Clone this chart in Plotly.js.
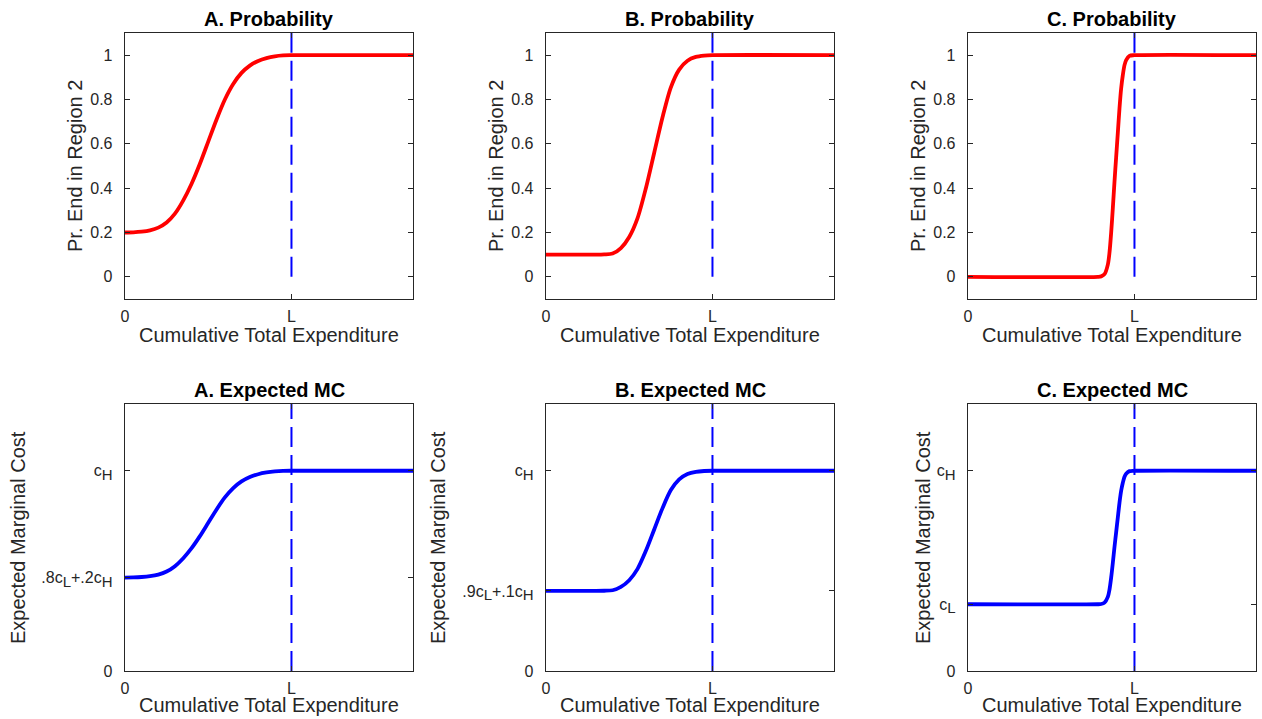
<!DOCTYPE html>
<html>
<head>
<meta charset="utf-8">
<script src="https://cdn.plot.ly/plotly-3.0.1.min.js"></script>
<style>html,body{margin:0;padding:0;background:#fff;}#chart{width:1262px;height:719px;}</style>
</head>
<body>
<div id="chart"></div>
<script>
// ---- Data ----
// x in units of L (L = 1)
const xA = [0, 0.05, 0.10, 0.15, 0.20, 0.25, 0.30, 0.35, 0.40, 0.45, 0.50, 0.55, 0.60, 0.65, 0.70, 0.75, 0.80, 0.85, 0.90, 0.95, 1.00, 1.73];
const probA = [0.200, 0.201, 0.204, 0.210, 0.222, 0.245, 0.285, 0.345, 0.420, 0.510, 0.610, 0.710, 0.800, 0.870, 0.920, 0.953, 0.974, 0.987, 0.995, 0.999, 1.000, 1.000];
const mcA = [1.400, 1.402, 1.408, 1.420, 1.444, 1.490, 1.570, 1.690, 1.840, 2.020, 2.220, 2.420, 2.600, 2.740, 2.840, 2.906, 2.948, 2.974, 2.990, 2.998, 3.000, 3.000];

const xB = [0, 0.30, 0.35, 0.40, 0.45, 0.50, 0.55, 0.60, 0.65, 0.70, 0.75, 0.80, 0.85, 0.90, 0.95, 1.00, 1.73];
const probB = [0.100, 0.100, 0.101, 0.105, 0.130, 0.180, 0.265, 0.400, 0.560, 0.720, 0.855, 0.935, 0.975, 0.992, 0.998, 1.000, 1.000];
const mcB = [1.200, 1.200, 1.202, 1.210, 1.260, 1.360, 1.530, 1.800, 2.120, 2.440, 2.710, 2.870, 2.950, 2.984, 2.996, 3.000, 3.000];

const xC = [0, 0.78, 0.80, 0.82, 0.84, 0.85, 0.86, 0.87, 0.88, 0.89, 0.90, 0.91, 0.92, 0.93, 0.94, 0.95, 0.97, 1.00, 1.73];
const probC = [0, 0, 0.002, 0.012, 0.055, 0.110, 0.200, 0.310, 0.430, 0.540, 0.650, 0.760, 0.850, 0.910, 0.955, 0.978, 0.997, 1.000, 1.000];
const mcC = [1.000, 1.000, 1.004, 1.024, 1.110, 1.220, 1.400, 1.620, 1.860, 2.080, 2.300, 2.520, 2.700, 2.820, 2.910, 2.956, 2.994, 3.000, 3.000];

const L = 1;
const xRange = [0, 1.73];
const probRange = [-0.1, 1.1];
const mcRange = [0, 4];

const SUB = s => '<sub><span style="font-size:15px">' + s + '</span></sub>';
const xTickVals = [0, L];
const xTickText = ['0', 'L'];
const probTickVals = [0, 0.2, 0.4, 0.6, 0.8, 1];
const probTickText = ['0', '0.2', '0.4', '0.6', '0.8', '1'];
const mcTickValsA = [0, 1.4, 3];
const mcTickTextA = ['0', '.8c' + SUB('L') + '+.2c' + SUB('H'), 'c' + SUB('H')];
const mcTickValsB = [0, 1.2, 3];
const mcTickTextB = ['0', '.9c' + SUB('L') + '+.1c' + SUB('H'), 'c' + SUB('H')];
const mcTickValsC = [0, 1, 3];
const mcTickTextC = ['0', 'c' + SUB('L'), 'c' + SUB('H')];

const topTitles = ['A. Probability', 'B. Probability', 'C. Probability'];
const bottomTitles = ['A. Expected MC', 'B. Expected MC', 'C. Expected MC'];
const xLabel = 'Cumulative Total Expenditure';
const probLabel = 'Pr. End in Region 2';
const mcLabel = 'Expected Marginal Cost';

// ---- Layout helpers ----
const W = 1262, H = 719;
const px = v => v / W;
const py = v => 1 - v / H;
const FONT = 'Liberation Sans, Arial, Helvetica, sans-serif';
const INK = '#262626';

const colDom = [[125, 413], [546, 834], [968, 1256]];
const topDom = [py(299), py(33)];
const botDom = [py(671), py(404)];

function axisBase() {
  return {
    showline: true, mirror: 'allticks', linecolor: INK, linewidth: 1.3,
    ticks: 'inside', ticklen: 5, tickwidth: 1, tickcolor: INK,
    showgrid: false, zeroline: false, fixedrange: true,
    tickfont: {family: FONT, size: 16, color: INK},
    tickmode: 'array'
  };
}

const layout = {
  width: W, height: H,
  margin: {l: 0, r: 0, t: 0, b: 0},
  paper_bgcolor: '#ffffff', plot_bgcolor: '#ffffff',
  showlegend: false,
  font: {family: FONT, color: INK},
  annotations: []
};

const traces = [];
const probX = [xA, xB, xC];
const probY = [probA, probB, probC];
const mcY = [mcA, mcB, mcC];
const mcTV = [mcTickValsA, mcTickValsB, mcTickValsC];
const mcTT = [mcTickTextA, mcTickTextB, mcTickTextC];
const topYLabelX = [75, 496, 918];
const botYLabelX = [17.5, 437.5, 922.5];

for (let i = 0; i < 3; i++) {
  const nTop = i + 1, nBot = i + 4;
  const xt = 'x' + (nTop === 1 ? '' : nTop), yt = 'y' + (nTop === 1 ? '' : nTop);
  const xb = 'x' + nBot, yb = 'y' + nBot;
  const dom = [px(colDom[i][0]), px(colDom[i][1])];

  layout['xaxis' + (nTop === 1 ? '' : nTop)] = Object.assign(axisBase(), {
    domain: dom, range: xRange, anchor: yt, tickvals: xTickVals, ticktext: xTickText, ticklabelstandoff: 2
  });
  layout['yaxis' + (nTop === 1 ? '' : nTop)] = Object.assign(axisBase(), {
    domain: topDom, range: probRange, anchor: xt, tickvals: probTickVals, ticktext: probTickText, ticklabelstandoff: 8
  });
  layout['xaxis' + nBot] = Object.assign(axisBase(), {
    domain: dom, range: xRange, anchor: yb, tickvals: xTickVals, ticktext: xTickText, ticklabelstandoff: 2
  });
  layout['yaxis' + nBot] = Object.assign(axisBase(), {
    domain: botDom, range: mcRange, anchor: xb, tickvals: mcTV[i], ticktext: mcTT[i], ticklabelstandoff: 8
  });

  // probability curve
  traces.push({x: probX[i], y: probY[i], xaxis: xt, yaxis: yt, type: 'scatter', mode: 'lines',
    line: {color: '#ff0000', width: 3.8, shape: 'spline', smoothing: 0.8}, hoverinfo: 'skip'});
  traces.push({x: [L, L], y: [0, probRange[1]], xaxis: xt, yaxis: yt, type: 'scatter', mode: 'lines',
    line: {color: '#0000ff', width: 2, dash: '20px,8px'}, hoverinfo: 'skip'});
  // expected MC curve
  traces.push({x: probX[i], y: mcY[i], xaxis: xb, yaxis: yb, type: 'scatter', mode: 'lines',
    line: {color: '#0000ff', width: 3.8, shape: 'spline', smoothing: 0.8}, hoverinfo: 'skip'});
  traces.push({x: [L, L], y: [0, mcRange[1]], xaxis: xb, yaxis: yb, type: 'scatter', mode: 'lines',
    line: {color: '#0000ff', width: 2, dash: '20px,8px'}, hoverinfo: 'skip'});

  const cx = px((colDom[i][0] + colDom[i][1]) / 2);
  layout.annotations.push(
    {text: '<b>' + topTitles[i] + '</b>', xref: 'paper', yref: 'paper', x: cx, y: py(6), xanchor: 'center', yanchor: 'top', showarrow: false, font: {family: FONT, size: 20, color: '#000000'}},
    {text: '<b>' + bottomTitles[i] + '</b>', xref: 'paper', yref: 'paper', x: cx, y: py(377), xanchor: 'center', yanchor: 'top', showarrow: false, font: {family: FONT, size: 20, color: '#000000'}},
    {text: xLabel, xref: 'paper', yref: 'paper', x: cx, y: py(321.5), xanchor: 'center', yanchor: 'top', showarrow: false, font: {family: FONT, size: 20, color: INK}},
    {text: xLabel, xref: 'paper', yref: 'paper', x: cx, y: py(691.5), xanchor: 'center', yanchor: 'top', showarrow: false, font: {family: FONT, size: 20, color: INK}},
    {text: probLabel, xref: 'paper', yref: 'paper', x: px(topYLabelX[i]), y: py(166), xanchor: 'center', yanchor: 'middle', textangle: -90, showarrow: false, font: {family: FONT, size: 20, color: INK}},
    {text: mcLabel, xref: 'paper', yref: 'paper', x: px(botYLabelX[i]), y: py(537.5), xanchor: 'center', yanchor: 'middle', textangle: -90, showarrow: false, font: {family: FONT, size: 20, color: INK}}
  );
}

Plotly.newPlot('chart', traces, layout, {staticPlot: true, displayModeBar: false});
</script>
</body>
</html>
